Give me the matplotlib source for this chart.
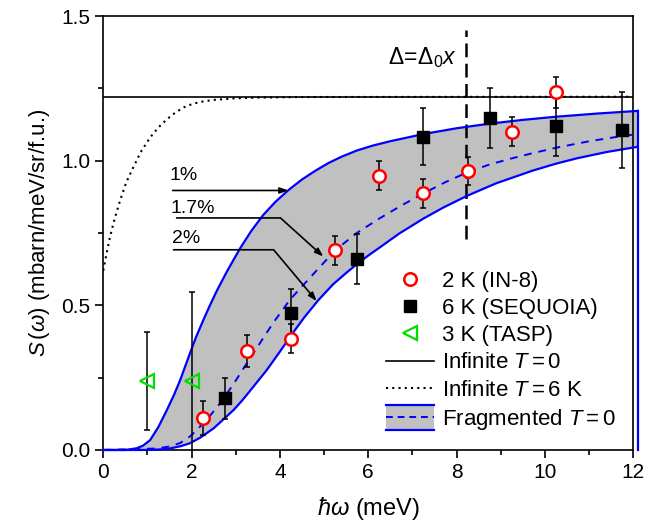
import numpy as np
import matplotlib
matplotlib.use("Agg")
import matplotlib.pyplot as plt
from matplotlib.lines import Line2D
from matplotlib.patches import Rectangle
from matplotlib.legend_handler import HandlerBase
from matplotlib.ticker import MultipleLocator, FormatStrFormatter

plt.rcParams['font.family'] = ['Liberation Sans', 'DejaVu Sans']
plt.rcParams['mathtext.fontset'] = 'custom'
plt.rcParams['mathtext.rm'] = 'Liberation Sans'
plt.rcParams['mathtext.it'] = 'Liberation Sans:italic'
plt.rcParams['mathtext.bf'] = 'Liberation Sans:bold'

# Measured data: 2 K (IN-8)
x_in8 = [2.25, 3.25, 4.25, 5.25, 6.25, 7.25, 8.25, 9.25, 10.25]
y_in8 = [0.111, 0.342, 0.385, 0.69, 0.948, 0.887, 0.963, 1.10, 1.236]
e_in8 = [0.06, 0.054, 0.05, 0.05, 0.05, 0.049, 0.048, 0.051, 0.053]

# 6 K (SEQUOIA)
x_seq = [2.75, 4.25, 5.75, 7.25, 8.75, 10.25, 11.75]
y_seq = [0.178, 0.475, 0.659, 1.083, 1.147, 1.121, 1.106]
e_seq = [0.07, 0.08, 0.087, 0.098, 0.104, 0.105, 0.13]

# 3 K (TASP)
x_tasp = [1.0, 2.0]
y_tasp = [0.239, 0.239]
e_tasp = [0.17, 0.307]

# Model curves
s_inf = 1.221  # infinite chain, T = 0
x_inf6 = [0, 0.08, 0.15, 0.25, 0.38, 0.52, 0.68, 0.85, 1.06, 1.25, 1.44, 1.63, 1.82,
          2.0, 2.19, 2.5, 2.94, 3.5, 4.5, 12.0]
y_inf6 = [0.62, 0.683, 0.735, 0.795, 0.862, 0.925, 0.977, 1.03, 1.08, 1.115, 1.143,
          1.166, 1.184, 1.195, 1.203, 1.21, 1.215, 1.218, 1.22, 1.221]

x_1pc = [0, 0.5, 0.76, 0.9, 1.06, 1.25, 1.44, 1.6, 1.74, 1.96, 2.1, 2.26, 2.4, 2.57,
         2.8, 3.09, 3.35, 3.62, 3.9, 4.19, 4.5, 4.8, 5.1, 5.4, 5.74, 6.1, 6.49, 7.25,
         8.0, 8.75, 9.5, 10.26, 11.2, 12.1]
y_1pc = [0, 0, 0.006, 0.015, 0.034, 0.08, 0.138, 0.19, 0.241, 0.333, 0.39, 0.447,
         0.495, 0.55, 0.617, 0.695, 0.757, 0.812, 0.858, 0.898, 0.935, 0.965, 0.992,
         1.014, 1.035, 1.052, 1.067, 1.092, 1.112, 1.128, 1.141, 1.152, 1.163, 1.172]

x_2pc = [0, 1.0, 1.3, 1.5, 1.75, 1.96, 2.2, 2.5, 2.75, 2.95, 3.15, 3.3, 3.5, 3.7,
         4.0, 4.27, 4.55, 4.87, 5.2, 5.5, 5.74, 6.0, 6.26, 6.7, 7.25, 7.7, 8.23,
         8.9, 9.73, 10.26, 10.72, 11.4, 12.1]
y_2pc = [0, 0, 0.002, 0.005, 0.013, 0.023, 0.043, 0.075, 0.11, 0.138, 0.172, 0.2,
         0.238, 0.276, 0.34, 0.40, 0.458, 0.518, 0.572, 0.612, 0.642, 0.672, 0.70,
         0.748, 0.80, 0.838, 0.878, 0.922, 0.966, 0.99, 1.008, 1.03, 1.048]

x_17pc = [0, 1.2, 1.5, 1.74, 1.95, 2.12, 2.4, 2.7, 3.0, 3.25, 3.55, 3.85, 4.23,
          4.75, 5.25, 5.74, 6.25, 6.75, 7.25, 7.75, 8.25, 8.75, 9.25, 9.75, 10.26,
          11.0, 11.74, 12.1]
y_17pc = [0, 0.005, 0.012, 0.024, 0.045, 0.069, 0.115, 0.172, 0.24, 0.30, 0.37,
          0.44, 0.52, 0.607, 0.69, 0.75, 0.80, 0.845, 0.887, 0.926, 0.96, 0.987,
          1.008, 1.027, 1.045, 1.067, 1.085, 1.092]

gap_x = 8.22  # Delta = Delta_0 x


class HandlerBand(HandlerBase):
    # gray band with blue edges and a dashed blue centre line
    def create_artists(self, legend, orig_handle, xdescent, ydescent,
                       width, height, fontsize, trans):
        x0 = -xdescent
        yc = -ydescent + height / 2
        h = height * 1.6
        rect = Rectangle((x0, yc - h / 2), width, h, facecolor='#c0c0c0',
                         edgecolor='none', transform=trans)
        top = Line2D([x0, x0 + width], [yc + h / 2] * 2, color='blue', lw=1.6, transform=trans)
        bot = Line2D([x0, x0 + width], [yc - h / 2] * 2, color='blue', lw=1.6, transform=trans)
        mid = Line2D([x0, x0 + width], [yc] * 2, color='blue', lw=1.4,
                     dashes=(3.5, 2.5), transform=trans)
        return [rect, top, bot, mid]


fig = plt.figure(figsize=(6.68, 5.25), dpi=100)
ax = fig.add_axes([0.1546, 0.1429, 0.7934, 0.8266])

# fragmented-chain band
ax.fill(np.concatenate([x_1pc, x_2pc[::-1]]), np.concatenate([y_1pc, y_2pc[::-1]]),
        color='#c0c0c0', lw=0, zorder=1, clip_on=False)
ax.plot(x_1pc, y_1pc, color='blue', lw=1.6, zorder=3, clip_on=False)
ax.plot(x_2pc, y_2pc, color='blue', lw=1.6, zorder=3, clip_on=False)
ax.plot([x_1pc[-1], x_1pc[-1]], [0, y_1pc[-1]], color='blue', lw=1.6, zorder=3, clip_on=False)
ax.plot(x_17pc, y_17pc, color='blue', lw=1.4, dashes=(4, 3.5), zorder=3)

# infinite chain
ax.axhline(s_inf, color='black', lw=1.2, zorder=2)
ax.plot(x_inf6, y_inf6, color='black', lw=1.5, dashes=(1, 2), zorder=2)

# gap position
ax.plot([gap_x, gap_x], [0.73, 1.45], color='black', lw=1.8, dashes=(5.5, 2.6), zorder=2)
ax.text(8.0, 1.357, r'$\Delta\!=\!\Delta_0 x$', fontsize=16.5, ha='right', va='center')

# data
eb = dict(fmt='none', ecolor='black', elinewidth=1.1, capsize=2.2, capthick=1.1, zorder=4)
ax.errorbar(x_in8, y_in8, yerr=e_in8, **eb)
ax.errorbar(x_seq, y_seq, yerr=e_seq, **eb)
ax.errorbar(x_tasp, y_tasp, yerr=e_tasp, **eb)
h_in8, = ax.plot(x_in8, y_in8, 'o', ms=9, mfc='white', mec='red', mew=1.8, zorder=5)
h_seq, = ax.plot(x_seq, y_seq, 's', ms=8, mfc='black', mec='black', zorder=5)
h_tasp, = ax.plot(x_tasp, y_tasp, '<', ms=10, mfc='none', mec='#00dd00', mew=1.6, zorder=5)

# annotation arrows for the three concentrations
arrow = dict(arrowstyle='-|>,head_length=0.5,head_width=0.18', color='black', lw=1.2,
             shrinkA=0, shrinkB=0)
ax.annotate('', xy=(4.19, 0.897), xytext=(1.57, 0.897), arrowprops=arrow)
ax.annotate('', xy=(4.98, 0.669), xytext=(1.66, 0.802),
            arrowprops=dict(arrow, connectionstyle='angle,angleA=0,angleB=-42,rad=0'))
ax.annotate('', xy=(4.83, 0.515), xytext=(1.59, 0.692),
            arrowprops=dict(arrow, connectionstyle='angle,angleA=0,angleB=-50,rad=0'))
ax.text(1.51, 0.948, '1%', fontsize=14, va='center')
ax.text(1.53, 0.833, '1.7%', fontsize=14, va='center')
ax.text(1.55, 0.73, '2%', fontsize=14, va='center')

ax.set_xlim(0, 12)
ax.set_ylim(0, 1.5)
ax.xaxis.set_major_locator(MultipleLocator(2))
ax.xaxis.set_minor_locator(MultipleLocator(1))
ax.yaxis.set_major_locator(MultipleLocator(0.5))
ax.yaxis.set_minor_locator(MultipleLocator(0.25))
ax.yaxis.set_major_formatter(FormatStrFormatter('%.1f'))
ax.tick_params(which='both', direction='out', top=False, right=False, width=1.2,
               labelsize=15)
ax.tick_params(which='major', length=6)
ax.tick_params(which='minor', length=3.5)
for s in ax.spines.values():
    s.set_linewidth(1.2)

ax.set_xlabel(r'$\hbar\omega$ (meV)', fontsize=17, labelpad=9)
ax.set_ylabel(r'$S\,(\omega)$ (mbarn/meV/sr/f.u.)', fontsize=16, labelpad=6)

h_inf0 = Line2D([], [], color='black', lw=1.2)
h_inf6 = Line2D([], [], color='black', lw=1.5, dashes=(1, 2))
h_band = object()
handles = [h_in8, h_seq, h_tasp, h_inf0, h_inf6, h_band]
labels = ['2 K (IN-8)', '6 K (SEQUOIA)', '3 K (TASP)', r'Infinite $T = 0$',
          r'Infinite $T = 6$ K', r'Fragmented $T = 0$']
ax.legend(handles, labels, loc='upper left', bbox_to_anchor=(0.533, 0.413), frameon=False,
          fontsize=16, handlelength=2.16, handletextpad=0.38, labelspacing=0.28,
          borderpad=0, borderaxespad=0, handler_map={h_band: HandlerBand()})

fig.savefig('out.png', dpi=100)
